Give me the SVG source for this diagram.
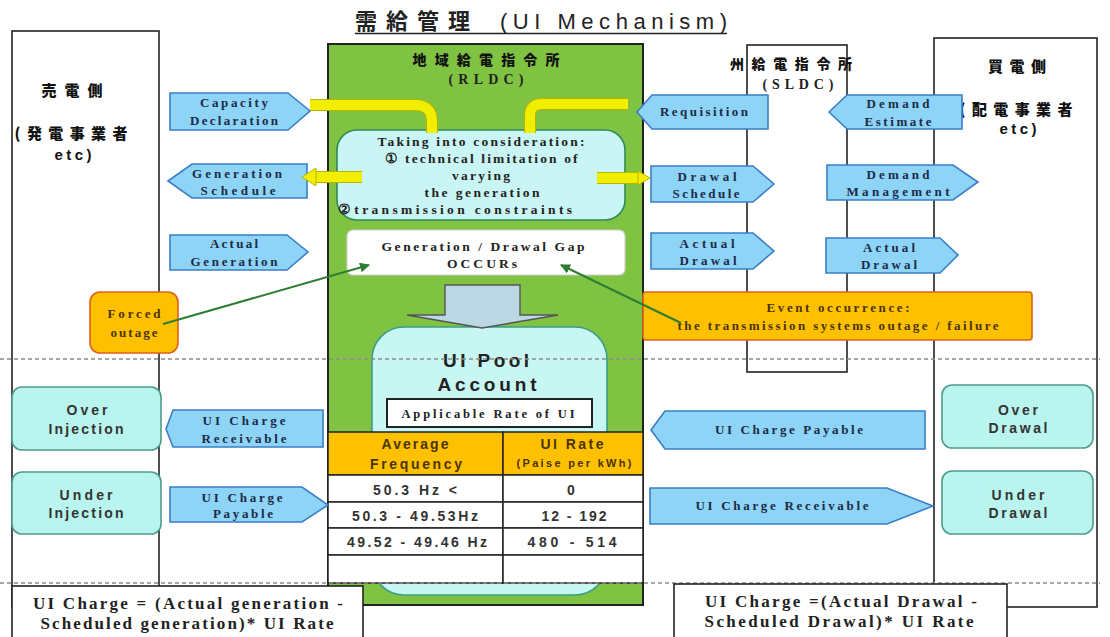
<svg xmlns="http://www.w3.org/2000/svg" width="1110" height="637" viewBox="0 0 1110 637">
<defs>
<style>
.box{fill:#fff;stroke:#222;stroke-width:1.6}
.ba{fill:#8ed4f6;stroke:#3a7ec6;stroke-width:1.6}
.bt{font-family:"Liberation Serif",serif;font-weight:bold;font-size:13px;fill:#1c2a48;text-anchor:middle}
.st{font-family:"Liberation Serif",serif;font-weight:bold;font-size:13.5px;fill:#222;text-anchor:middle}
.ss{font-family:"Liberation Sans",Arial,sans-serif;font-weight:bold;font-size:14px;fill:#333;text-anchor:middle}
.jp{font-family:"Noto Sans CJK JP",sans-serif;font-weight:900;font-size:15px;fill:#111;text-anchor:middle}
.cy{fill:#b9f5ee;stroke:#4f9c8c;stroke-width:1.6}
.yl{fill:none;stroke:#f2ee00;stroke-width:10}
.yo{fill:none;stroke:#b9b400;stroke-width:12}
.dash{stroke:#8a8a8a;stroke-width:1.3;stroke-dasharray:4 3;fill:none}
.gl{stroke:#2e7d32;stroke-width:2;fill:none}
.cell{fill:#fff;stroke:#222;stroke-width:1.5}
.hdr{fill:#ffc000;stroke:#222;stroke-width:1.5}
.ft{font-family:"Liberation Serif",serif;font-weight:bold;font-size:17px;fill:#222;text-anchor:middle}
.brn{fill:#4a3400}
</style>
<marker id="ah" viewBox="0 0 10 10" refX="9" refY="5" markerWidth="5" markerHeight="5" orient="auto">
<path d="M0,0 L10,5 L0,10 z" fill="#2e7d32"/>
</marker>
</defs>
<rect width="1110" height="637" fill="#fff"/>

<g id="title">
<text x="355" y="29" style="font-family:'Noto Sans CJK JP',sans-serif;font-size:22px;font-weight:bold;fill:#222" textLength="115" lengthAdjust="spacing">需給管理</text>
<text x="500" y="29" style="font-family:'Liberation Sans',Arial,sans-serif;font-size:22px;fill:#222" textLength="227" lengthAdjust="spacing">(UI Mechanism)</text>
<line x1="355" y1="33.5" x2="727" y2="33.5" stroke="#222" stroke-width="1.6"/>
</g>

<g id="seller">
<rect class="box" x="12" y="31" width="147" height="576"/>
<text class="jp" x="72" y="96" textLength="61" lengthAdjust="spacing">売電側</text>
<text class="jp" x="71" y="139" textLength="113" lengthAdjust="spacing">(発電事業者</text>
<text class="ss" x="73" y="160" style="font-size:15px;fill:#111" textLength="37" lengthAdjust="spacing">etc)</text>
</g>

<g id="buyer">
<rect class="box" x="934" y="38" width="163" height="569"/>
<text class="jp" x="1017" y="72" textLength="58" lengthAdjust="spacing">買電側</text>
<text class="jp" x="1016" y="115" textLength="113" lengthAdjust="spacing">(配電事業者</text>
<text class="ss" x="1018" y="134" style="font-size:15px;fill:#111" textLength="37" lengthAdjust="spacing">etc)</text>
</g>

<g id="sldc">
<rect class="box" x="747" y="45" width="100" height="327"/>
<text class="jp" x="791" y="69" style="font-size:14px" textLength="122" lengthAdjust="spacing">州給電指令所</text>
<text class="st" x="798" y="89" style="font-size:14px" textLength="71" lengthAdjust="spacing">(SLDC)</text>
</g>

<g id="rldc">
<rect x="328" y="44" width="315" height="561" fill="#80c342" stroke="#222" stroke-width="2"/>
<text class="jp" x="486" y="65" style="font-size:14px" textLength="147" lengthAdjust="spacing">地域給電指令所</text>
<text class="st" x="486" y="84" style="font-size:14px" textLength="75" lengthAdjust="spacing">(RLDC)</text>
</g>

<g id="consider">
<rect x="337" y="130" width="288" height="90" rx="20" fill="#c9f6f5" stroke="#2e8b57" stroke-width="1.6"/>
<text class="st" x="481" y="146" textLength="207" lengthAdjust="spacing">Taking into consideration:</text>
<text class="st" x="481" y="163" textLength="193" lengthAdjust="spacing">① technical limitation of</text>
<text class="st" x="481" y="180" textLength="58" lengthAdjust="spacing">varying</text>
<text class="st" x="482" y="197" textLength="115" lengthAdjust="spacing">the generation</text>
<text class="st" x="455" y="214" textLength="234" lengthAdjust="spacing">②transmission constraints</text>
</g>

<g id="gap">
<rect x="347" y="230" width="278" height="45" rx="6" fill="#fff" stroke="#d0d0d0" stroke-width="1.2"/>
<text class="st" x="483" y="251" textLength="203" lengthAdjust="spacing">Generation / Drawal Gap</text>
<text class="st" x="482" y="268" textLength="70" lengthAdjust="spacing">OCCURs</text>
</g>

<g id="pool">
<rect x="372" y="327" width="235" height="268" rx="32" fill="#c8f7f3" stroke="#3a9e86" stroke-width="1.6"/>
<polygon points="445,285 520,285 520,315 558,315 482,328 407,315 445,315" fill="#bcd8e4" stroke="#555" stroke-width="1.4"/>
<text class="ss" x="486" y="367" style="font-size:19px;fill:#222" textLength="86" lengthAdjust="spacing">UI Pool</text>
<text class="ss" x="487" y="391" style="font-size:19px;fill:#222" textLength="99" lengthAdjust="spacing">Account</text>
<rect x="387" y="399" width="205" height="28" fill="#fff" stroke="#222" stroke-width="2"/>
<text class="st" x="488" y="418" style="font-size:12.5px" textLength="173" lengthAdjust="spacing">Applicable Rate of UI</text>
</g>

<g id="table">
<rect class="hdr" x="328" y="432" width="175" height="43"/>
<rect class="hdr" x="503" y="432" width="140" height="43"/>
<rect class="cell" x="328" y="475" width="175" height="27"/>
<rect class="cell" x="503" y="475" width="140" height="27"/>
<rect class="cell" x="328" y="502" width="175" height="26"/>
<rect class="cell" x="503" y="502" width="140" height="26"/>
<rect class="cell" x="328" y="528" width="175" height="27"/>
<rect class="cell" x="503" y="528" width="140" height="27"/>
<rect class="cell" x="328" y="555" width="175" height="28"/>
<rect class="cell" x="503" y="555" width="140" height="28"/>
<text class="ss brn" x="415" y="449" textLength="67" lengthAdjust="spacing">Average</text>
<text class="ss brn" x="416" y="469" textLength="92" lengthAdjust="spacing">Frequency</text>
<text class="ss brn" x="572" y="449" textLength="63" lengthAdjust="spacing">UI Rate</text>
<text class="ss brn" x="574" y="467" style="font-size:11px" textLength="115" lengthAdjust="spacing">(Paise per kWh)</text>
<text class="ss" x="415" y="495" textLength="84" lengthAdjust="spacing">50.3 Hz &lt;</text>
<text class="ss" x="571" y="495">0</text>
<text class="ss" x="415" y="521" textLength="126" lengthAdjust="spacing">50.3  - 49.53Hz</text>
<text class="ss" x="574" y="521" textLength="65" lengthAdjust="spacing">12 - 192</text>
<text class="ss" x="417" y="547" textLength="140" lengthAdjust="spacing">49.52 - 49.46 Hz</text>
<text class="ss" x="572" y="547" textLength="89" lengthAdjust="spacing">480  -  514</text>
</g>

<g id="capacity-declaration">
<polygon class="ba" points="170,93 288,93 310,111 288,130 170,130"/>
<text class="bt" x="234" y="107" textLength="68" lengthAdjust="spacing">Capacity</text>
<text class="bt" x="234" y="125" textLength="88" lengthAdjust="spacing">Declaration</text>
</g>
<g id="generation-schedule">
<polygon class="ba" points="168,181 192,164 307,164 307,198 192,198"/>
<text class="bt" x="237" y="178" textLength="90" lengthAdjust="spacing">Generation</text>
<text class="bt" x="238" y="195" textLength="75" lengthAdjust="spacing">Schedule</text>
</g>
<g id="actual-generation">
<polygon class="ba" points="170,235 287,235 308,252 287,270 170,270"/>
<text class="bt" x="234" y="248" textLength="48" lengthAdjust="spacing">Actual</text>
<text class="bt" x="234" y="266" textLength="87" lengthAdjust="spacing">Generation</text>
</g>
<g id="requisition">
<polygon class="ba" points="637,112 652,95 768,95 768,129 652,129"/>
<text class="bt" x="704" y="116" textLength="88" lengthAdjust="spacing">Requisition</text>
</g>
<g id="demand-estimate">
<polygon class="ba" points="829,112 847,95 962,95 962,129 847,129"/>
<text class="bt" x="898" y="108" textLength="63" lengthAdjust="spacing">Demand</text>
<text class="bt" x="898" y="126" textLength="67" lengthAdjust="spacing">Estimate</text>
</g>
<g id="drawal-schedule">
<polygon class="ba" points="651,166 753,166 774,184 753,202 651,202"/>
<text class="bt" x="707" y="181" textLength="59" lengthAdjust="spacing">Drawal</text>
<text class="bt" x="706" y="198" textLength="67" lengthAdjust="spacing">Schedule</text>
</g>
<g id="demand-management">
<polygon class="ba" points="827,165 953,165 978,182 953,200 827,200"/>
<text class="bt" x="898" y="179" textLength="63" lengthAdjust="spacing">Demand</text>
<text class="bt" x="898" y="196" textLength="103" lengthAdjust="spacing">Management</text>
</g>
<g id="actual-drawal-sldc">
<polygon class="ba" points="651,233 753,233 774,251 753,269 651,269"/>
<text class="bt" x="707" y="248" textLength="55" lengthAdjust="spacing">Actual</text>
<text class="bt" x="708" y="265" textLength="57" lengthAdjust="spacing">Drawal</text>
</g>
<g id="actual-drawal-buyer">
<polygon class="ba" points="826,238 940,238 958,255 940,273 826,273"/>
<text class="bt" x="889" y="252" textLength="52" lengthAdjust="spacing">Actual</text>
<text class="bt" x="889" y="269" textLength="56" lengthAdjust="spacing">Drawal</text>
</g>

<g id="forced-outage">
<rect x="90" y="292" width="88" height="61" rx="10" fill="#ffc000" stroke="#e0601a" stroke-width="1.6"/>
<text class="bt brn" x="134" y="318" textLength="53" lengthAdjust="spacing">Forced</text>
<text class="bt brn" x="134" y="337" textLength="47" lengthAdjust="spacing">outage</text>
</g>

<g id="event-occurrence">
<rect x="643" y="292" width="389" height="48" rx="3" fill="#ffc000" stroke="#e0601a" stroke-width="1.6"/>
<text class="bt brn" x="838" y="312" textLength="143" lengthAdjust="spacing">Event occurrence:</text>
<text class="bt brn" x="838" y="330" textLength="321" lengthAdjust="spacing">the transmission systems outage / failure</text>
</g>

<g id="connectors">
<path class="yo" d="M310,105 H415 Q432,105 432,122 V133"/>
<path class="yl" d="M310,105 H415 Q432,105 432,122 V133"/>
<path class="yo" d="M628,104 H542 Q530,104 530,116 V133"/>
<path class="yl" d="M628,104 H542 Q530,104 530,116 V133"/>
<path class="yo" d="M362,177 H314"/>
<path class="yl" d="M362,177 H314"/>
<polygon points="316,168 302,177 316,186" fill="#f2ee00" stroke="#b9b400" stroke-width="1"/>
<path class="yo" d="M597,178 H639"/>
<path class="yl" d="M597,178 H639"/>
<polygon points="638,171 650,178 638,185" fill="#f2ee00" stroke="#b9b400" stroke-width="1"/>
<line class="gl" x1="163" y1="324" x2="369" y2="265" marker-end="url(#ah)"/>
<line class="gl" x1="681" y1="323" x2="561" y2="265" marker-end="url(#ah)"/>
</g>

<g id="over-injection">
<rect class="cy" x="12" y="387" width="149" height="63" rx="10"/>
<text class="ss" x="87" y="415" textLength="41" lengthAdjust="spacing">Over</text>
<text class="ss" x="86" y="434" textLength="75" lengthAdjust="spacing">Injection</text>
</g>
<g id="under-injection">
<rect class="cy" x="12" y="472" width="149" height="62" rx="10"/>
<text class="ss" x="86" y="500" textLength="53" lengthAdjust="spacing">Under</text>
<text class="ss" x="86" y="518" textLength="75" lengthAdjust="spacing">Injection</text>
</g>
<g id="ui-charge-receivable-left">
<polygon class="ba" points="166,429 173,410 323,410 323,447 173,447"/>
<text class="bt" x="244" y="425" textLength="83" lengthAdjust="spacing">UI Charge</text>
<text class="bt" x="244" y="443" textLength="85" lengthAdjust="spacing">Receivable</text>
</g>
<g id="ui-charge-payable-left">
<polygon class="ba" points="170,487 302,487 328,505 302,522 170,522"/>
<text class="bt" x="242" y="502" textLength="81" lengthAdjust="spacing">UI Charge</text>
<text class="bt" x="243" y="518" textLength="60" lengthAdjust="spacing">Payable</text>
</g>
<g id="ui-charge-payable-right">
<polygon class="ba" points="651,430 665,411 925,411 925,449 665,449"/>
<text class="bt" x="789" y="434" textLength="148" lengthAdjust="spacing">UI Charge Payable</text>
</g>
<g id="ui-charge-receivable-right">
<polygon class="ba" points="650,488 887,488 933,506 887,524 650,524"/>
<text class="bt" x="782" y="510" textLength="173" lengthAdjust="spacing">UI Charge Receivable</text>
</g>
<g id="over-drawal">
<rect class="cy" x="942" y="385" width="151" height="63" rx="10"/>
<text class="ss" x="1018" y="415" textLength="40" lengthAdjust="spacing">Over</text>
<text class="ss" x="1018" y="433" textLength="59" lengthAdjust="spacing">Drawal</text>
</g>
<g id="under-drawal">
<rect class="cy" x="942" y="471" width="151" height="63" rx="10"/>
<text class="ss" x="1018" y="500" textLength="53" lengthAdjust="spacing">Under</text>
<text class="ss" x="1018" y="518" textLength="59" lengthAdjust="spacing">Drawal</text>
</g>

<g id="dashes">
<line class="dash" x1="0" y1="359" x2="1100" y2="359"/>
<line class="dash" x1="0" y1="583" x2="1100" y2="583"/>
</g>

<g id="formula-gen">
<rect class="box" x="12" y="586" width="351" height="60"/>
<text class="ft" x="188" y="609" textLength="310" lengthAdjust="spacing">UI Charge = (Actual generation -</text>
<text class="ft" x="187" y="629" textLength="293" lengthAdjust="spacing">Scheduled generation)* UI Rate</text>
</g>
<g id="formula-drawal">
<rect class="box" x="674" y="584" width="333" height="62"/>
<text class="ft" x="841" y="607" textLength="272" lengthAdjust="spacing">UI Charge =(Actual Drawal -</text>
<text class="ft" x="839" y="627" textLength="269" lengthAdjust="spacing">Scheduled  Drawal)* UI Rate</text>
</g>
</svg>
